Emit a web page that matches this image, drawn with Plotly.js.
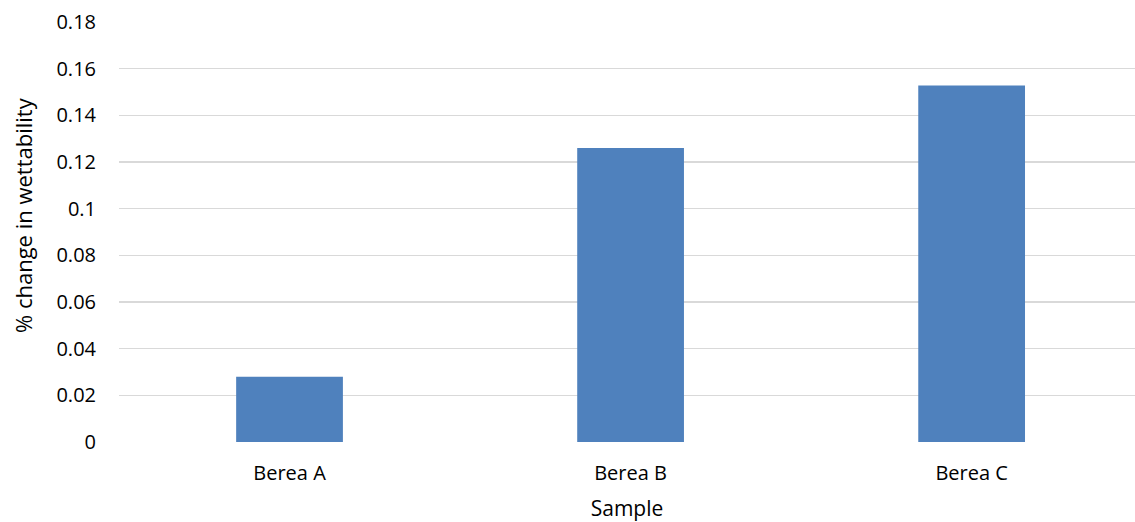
<!DOCTYPE html>
<html>
<head>
<meta charset="utf-8">
<script src="https://cdn.plot.ly/plotly-3.0.1.min.js"></script>
<style>html,body{margin:0;padding:0;background:#fff;}#chart{width:1135px;height:522px;}</style>
</head>
<body>
<div id="chart"></div>
<script>
const categories = ["Berea A", "Berea B", "Berea C"];
const values = [0.028, 0.126, 0.1528];
const yTickVals = [0, 0.02, 0.04, 0.06, 0.08, 0.1, 0.12, 0.14, 0.16, 0.18];
const yTickText = ["0", "0.02", "0.04", "0.06", "0.08", "0.1", "0.12", "0.14", "0.16", "0.18"];
const xTitle = "Sample";
const yTitle = "% change in wettability";

const font = "'Open Sans', Lato, 'Liberation Sans', sans-serif";

Plotly.newPlot("chart", [{
  type: "bar",
  x: [0, 1, 2],
  y: values,
  width: 0.313,
  marker: {color: "#4F81BD", line: {width: 0}},
  hoverinfo: "none"
}], {
  width: 1135,
  height: 522,
  margin: {l: 119, r: 0, t: 22, b: 80, pad: 0},
  paper_bgcolor: "#fff",
  plot_bgcolor: "#fff",
  showlegend: false,
  font: {family: font, size: 21, color: "#000"},
  xaxis: {
    range: [-0.5, 2.479],
    tickvals: [0, 1, 2],
    ticktext: categories,
    showgrid: false,
    zeroline: false,
    showline: false,
    ticks: "",
    ticklabelstandoff: 17,
    tickfont: {family: font, size: 20, color: "#000"},
    title: {text: xTitle, font: {family: font, size: 21, color: "#000"}, standoff: 17}
  },
  yaxis: {
    range: [0, 0.18],
    tickvals: yTickVals,
    ticktext: yTickText,
    showgrid: true,
    gridcolor: "#d9d9d9",
    gridwidth: 1.3,
    zeroline: false,
    showline: false,
    ticks: "",
    ticklabelstandoff: 22,
    tickfont: {family: font, size: 20, color: "#000"}
  },
  annotations: [{
    text: yTitle,
    xref: "paper", yref: "paper",
    x: (23 - 119) / 1016, y: (442 - 215) / 420,
    xanchor: "center", yanchor: "middle",
    textangle: -90,
    showarrow: false,
    font: {family: font, size: 22, color: "#000"}
  }]
}, {staticPlot: true});
</script>
</body>
</html>
